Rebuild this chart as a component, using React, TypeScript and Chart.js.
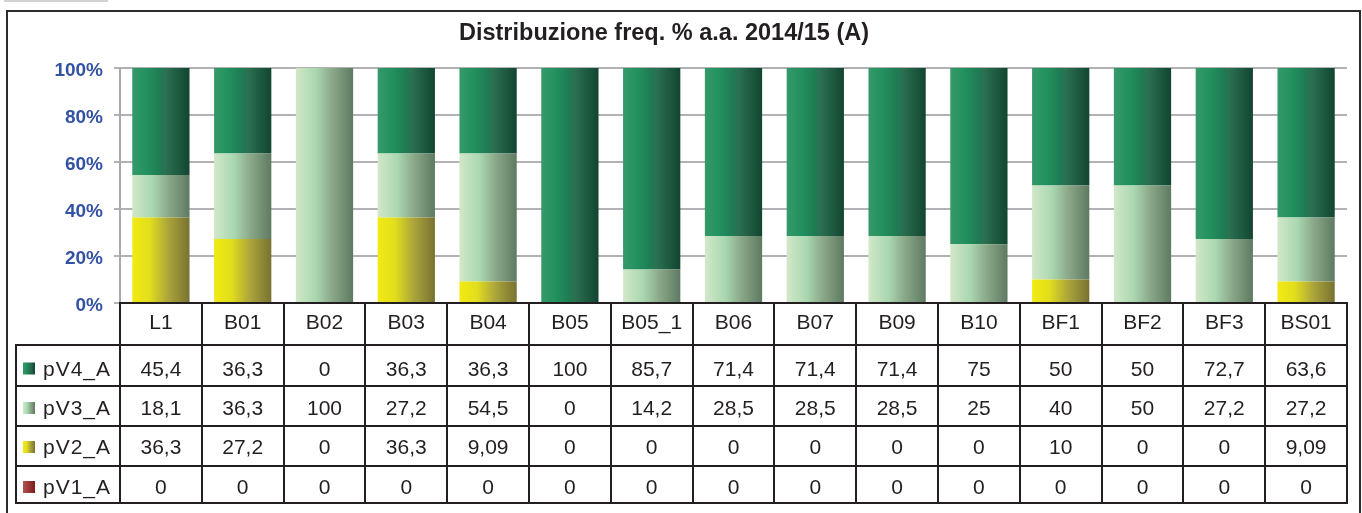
import React, { useEffect, useRef } from "react";
import { Chart, registerables } from "chart.js";

Chart.register(...registerables);

const categories = ["L1", "B01", "B02", "B03", "B04", "B05", "B05_1", "B06", "B07", "B09", "B10", "BF1", "BF2", "BF3", "BS01"];
const pV4_A = [45.4, 36.3, 0, 36.3, 36.3, 100, 85.7, 71.4, 71.4, 71.4, 75, 50, 50, 72.7, 63.6];
const pV3_A = [18.1, 36.3, 100, 27.2, 54.5, 0, 14.2, 28.5, 28.5, 28.5, 25, 40, 50, 27.2, 27.2];
const pV2_A = [36.3, 27.2, 0, 36.3, 9.09, 0, 0, 0, 0, 0, 0, 10, 0, 0, 9.09];
const pV1_A = [0, 0, 0, 0, 0, 0, 0, 0, 0, 0, 0, 0, 0, 0, 0];
const seriesNames = ["pV4_A", "pV3_A", "pV2_A", "pV1_A"];
const titleText = "Distribuzione freq. % a.a. 2014/15 (A)";

type Stop = [number, string];
const greenStops: Stop[] = [[0, "#36996A"], [0.25, "#22915E"], [0.5, "#1F7A52"], [0.58, "#2B7152"], [1, "#124530"]];
const lightStops: Stop[] = [[0, "#D2E8C8"], [0.35, "#A9D7B0"], [0.62, "#8CAA8A"], [1, "#5E7A62"]];
const yellowStops: Stop[] = [[0, "#F2EA12"], [0.3, "#E2DE1C"], [0.62, "#ADA63A"], [1, "#787232"]];
const redStops: Stop[] = [[0, "#B25252"], [1, "#7E1A1A"]];

const FONT = "'Liberation Sans', Arial, Helvetica, sans-serif";
const TEXT = "#231F20";

function gradFor(chart: any, stops: Stop[], idx: number | undefined) {
  const xs = chart.scales && chart.scales.x;
  if (!xs || idx === undefined || !xs.width) return stops[0][1];
  const cw = xs.width / categories.length;
  const w = cw * 0.7;
  const cx = xs.getPixelForValue(idx);
  const g = chart.ctx.createLinearGradient(cx - w / 2, 0, cx + w / 2, 0);
  stops.forEach(([o, c]) => g.addColorStop(o, c));
  return g;
}

const fmt = (v: number) => String(v).replace(".", ",");

const tablePlugin = {
  id: "dataTable",
  beforeDraw(chart: any) {
    const ctx = chart.ctx;
    ctx.save();
    ctx.fillStyle = "#ffffff";
    ctx.fillRect(0, 0, chart.width, chart.height);
    ctx.fillStyle = "#D2D2D2";
    ctx.fillRect(4, 0, 104, 2);
    ctx.restore();
  },
  afterDraw(chart: any) {
    const ctx = chart.ctx;
    const xs = chart.scales.x;
    const n = categories.length;
    const left = xs.left;
    const right = xs.right;
    const colW = (right - left) / n;
    const top = chart.chartArea.bottom;
    const legendLeft = 16;
    const rowLines = [top + 42, top + 83, top + 123, top + 163, top + 200];
    const headerBase = top + 26;
    const rowBases = [top + 73, top + 112, top + 151, top + 191];
    const rowCenters = [top + 65.5, top + 105, top + 144, top + 184];
    const rows = [pV4_A, pV3_A, pV2_A, pV1_A];
    const stops = [greenStops, lightStops, yellowStops, redStops];
    const bottom = rowLines[rowLines.length - 1];

    ctx.save();
    // frame
    ctx.strokeStyle = "#2B2B2B";
    ctx.lineWidth = 2;
    ctx.strokeRect(7, 11, 1353, 520);

    // title
    ctx.fillStyle = TEXT;
    ctx.font = `bold 23.5px ${FONT}`;
    ctx.textAlign = "center";
    ctx.textBaseline = "alphabetic";
    ctx.fillText(titleText, 664, 40);

    // text
    ctx.font = `21px ${FONT}`;
    for (let i = 0; i < n; i++) {
      const cx = left + (i + 0.5) * colW;
      ctx.fillText(categories[i], cx, headerBase);
      rows.forEach((r, k) => ctx.fillText(fmt(r[i]), cx, rowBases[k]));
    }
    ctx.textAlign = "left";
    seriesNames.forEach((name, k) => {
      const cy = rowCenters[k];
      const g = ctx.createLinearGradient(23, 0, 35, 0);
      stops[k].forEach(([o, c]) => g.addColorStop(o, c));
      ctx.fillStyle = g;
      ctx.fillRect(23, cy - 6, 12, 12);
      ctx.fillStyle = TEXT;
      (ctx as any).letterSpacing = "1px";
      ctx.fillText(name, 43, rowBases[k]);
      (ctx as any).letterSpacing = "0px";
    });

    // lines
    ctx.strokeStyle = TEXT;
    ctx.lineWidth = 2;
    ctx.beginPath();
    ctx.moveTo(left, top);
    ctx.lineTo(right, top);
    rowLines.forEach((y) => {
      ctx.moveTo(legendLeft - 1, y);
      ctx.lineTo(right + 1, y);
    });
    ctx.moveTo(legendLeft, rowLines[0]);
    ctx.lineTo(legendLeft, bottom);
    for (let i = 0; i <= n; i++) {
      const x = Math.round(left + i * colW);
      ctx.moveTo(x, top - 1);
      ctx.lineTo(x, bottom + 1);
    }
    ctx.stroke();
    ctx.restore();
  },
};

export default function App() {
  const ref = useRef<HTMLCanvasElement | null>(null);
  useEffect(() => {
    document.body.style.margin = "0";
    const canvas = ref.current;
    if (!canvas) return;
    const raw = [pV1_A, pV2_A, pV3_A, pV4_A];
    const sums = categories.map((_, i) => raw.reduce((s, a) => s + a[i], 0));
    const pct = (arr: number[]) => arr.map((v, i) => (sums[i] ? (v / sums[i]) * 100 : 0));
    const mk = (label: string, arr: number[], stops: Stop[]) => ({
      label,
      data: pct(arr),
      backgroundColor: (c: any) => gradFor(c.chart, stops, c.dataIndex),
      borderWidth: 0,
      categoryPercentage: 1,
      barPercentage: 0.7,
    });
    const chart = new Chart(canvas, {
      type: "bar",
      data: {
        labels: categories,
        datasets: [
          mk("pV1_A", pV1_A, redStops),
          mk("pV2_A", pV2_A, yellowStops),
          mk("pV3_A", pV3_A, lightStops),
          mk("pV4_A", pV4_A, greenStops),
        ],
      },
      options: {
        responsive: false,
        devicePixelRatio: 1,
        animation: false,
        layout: { padding: { left: 0, right: 15, top: 68, bottom: 0 } },
        plugins: {
          legend: { display: false },
          tooltip: { enabled: false },
          title: { display: false },
        },
        scales: {
          x: {
            stacked: true,
            grid: { display: false },
            border: { display: false },
            ticks: { display: false },
            afterFit: (s: any) => {
              s.height = 210;
            },
          },
          y: {
            stacked: true,
            min: 0,
            max: 100,
            ticks: {
              stepSize: 20,
              callback: (v: any) => v + "%",
              color: "#3352A3",
              font: { family: FONT, size: 19, weight: "bold" },
              padding: 11,
              labelOffset: 3,
            },
            grid: { color: "#B2B2B6", lineWidth: 2, tickLength: 6, tickColor: "#B2B2B6" },
            border: { display: true, color: "#AAAAAE", width: 2 },
            afterFit: (s: any) => {
              s.width = 120;
            },
          },
        },
      },
      plugins: [tablePlugin],
    });
    return () => chart.destroy();
  }, []);
  return (
    <div style={{ width: 1362, height: 513 }}>
      <canvas ref={ref} width={1362} height={513} style={{ display: "block" }} />
    </div>
  );
}
